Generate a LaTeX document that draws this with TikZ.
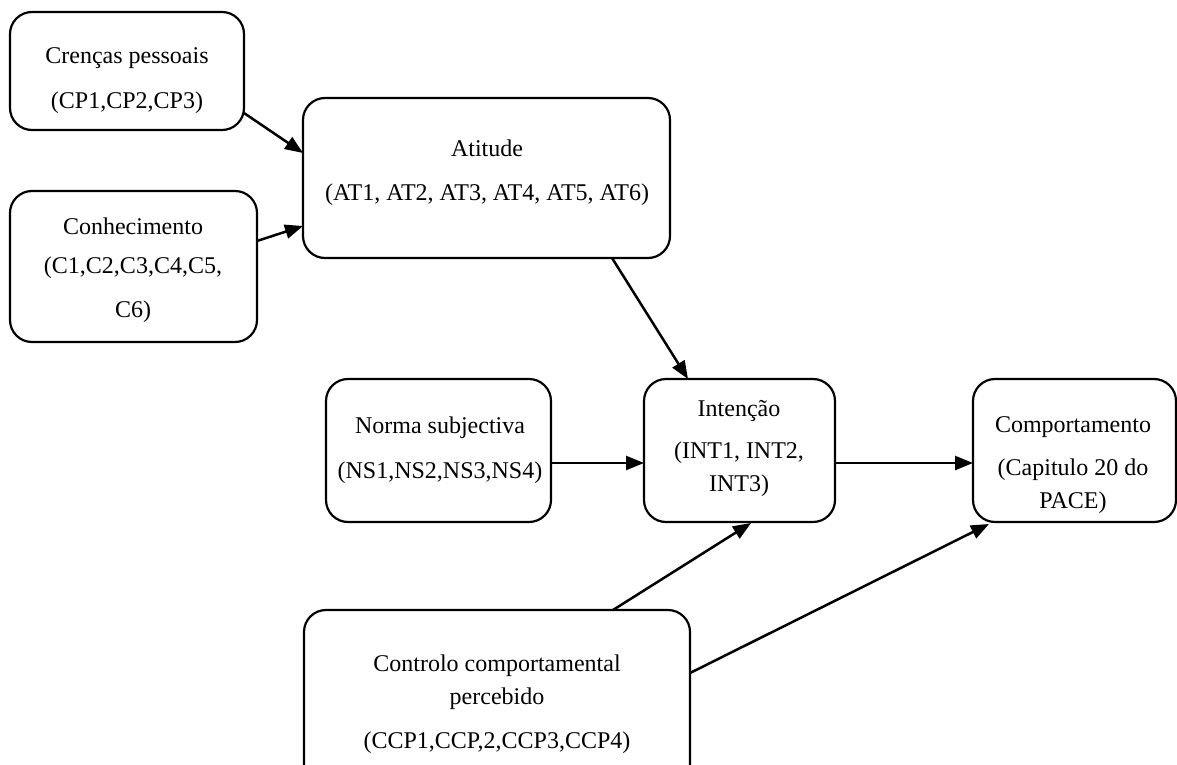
\documentclass[tikz,border=0pt]{standalone}
\usepackage{fontspec}
\setmainfont{Liberation Serif}
\usetikzlibrary{arrows.meta}
\begin{document}
\begin{tikzpicture}[x=0.5pt,y=-0.5pt,
  box/.style={draw,line width=1.1pt,rounded corners=11pt,inner sep=0pt},
  txt/.style={inner sep=0pt,font=\fontsize{12pt}{14pt}\selectfont},
  arr/.style={line width=1.25pt,-{Triangle[length=9pt,width=7pt]}}]
\useasboundingbox (0,0) rectangle (1177,765);
\clip (0,0) rectangle (1177,765);
% boxes
\node[box,minimum width=117pt,minimum height=59pt] (cp) at (127,71) {};
\node[box,minimum width=123.5pt,minimum height=75.5pt] (co) at (133.5,266.5) {};
\node[box,minimum width=183.5pt,minimum height=80pt] (at) at (486.5,178) {};
\node[box,minimum width=112.5pt,minimum height=71.5pt] (ns) at (438.5,450.5) {};
\node[box,minimum width=95.5pt,minimum height=71.5pt] (in) at (739.5,450.5) {};
\node[box,minimum width=101.5pt,minimum height=71.5pt] (cm) at (1074.5,450.5) {};
\node[box,minimum width=193pt,minimum height=90pt] (cc) at (497,700) {};
% texts
\node[txt] (cp1) at (127,58) {Crenças pessoais};
\node[txt] (cp2) at (127,103) {(CP1,CP2,CP3)};
\node[txt] (co1) at (133,226) {Conhecimento};
\node[txt] (co2) at (133,268) {(C1,C2,C3,C4,C5,};
\node[txt] (co3) at (133,312) {C6)};
\node[txt] (at1) at (487,148) {Atitude};
\node[txt] (at2) at (487,195) {(AT1, AT2, AT3, AT4, AT5, AT6)};
\node[txt] (ns1) at (440,428) {Norma subjectiva};
\node[txt] (ns2) at (440,473) {(NS1,NS2,NS3,NS4)};
\node[txt] (in1) at (739,411) {Intenção};
\node[txt] (in2) at (739,453) {(INT1, INT2,};
\node[txt] (in3) at (739,486) {INT3)};
\node[txt] (cm1) at (1073,427) {Comportamento};
\node[txt] (cm2) at (1073,470) {(Capitulo 20 do};
\node[txt] (cm3) at (1073,503) {PACE)};
\node[txt] (cc1) at (497,666) {Controlo comportamental};
\node[txt] (cc2) at (497,699) {percebido};
\node[txt] (cc3) at (497,743) {(CCP1,CCP,2,CCP3,CCP4)};
% connector endpoints
\coordinate (a1s) at (244,113); \coordinate (a1e) at (303,153);
\coordinate (a2s) at (257,241); \coordinate (a2e) at (303,226);
\coordinate (a3s) at (612,258); \coordinate (a3e) at (688,379);
\coordinate (a4s) at (551,463); \coordinate (a4e) at (644,463);
\coordinate (a5s) at (835,463); \coordinate (a5e) at (973,463);
\coordinate (a6s) at (613,610); \coordinate (a6e) at (751,523);
\coordinate (a7s) at (690,673); \coordinate (a7e) at (989,524);
\draw[arr] (a1s) -- (a1e);
\draw[arr] (a2s) -- (a2e);
\draw[arr] (a3s) -- (a3e);
\draw[arr] (a4s) -- (a4e);
\draw[arr] (a5s) -- (a5e);
\draw[arr] (a6s) -- (a6e);
\draw[arr] (a7s) -- (a7e);
\end{tikzpicture}
\end{document}
